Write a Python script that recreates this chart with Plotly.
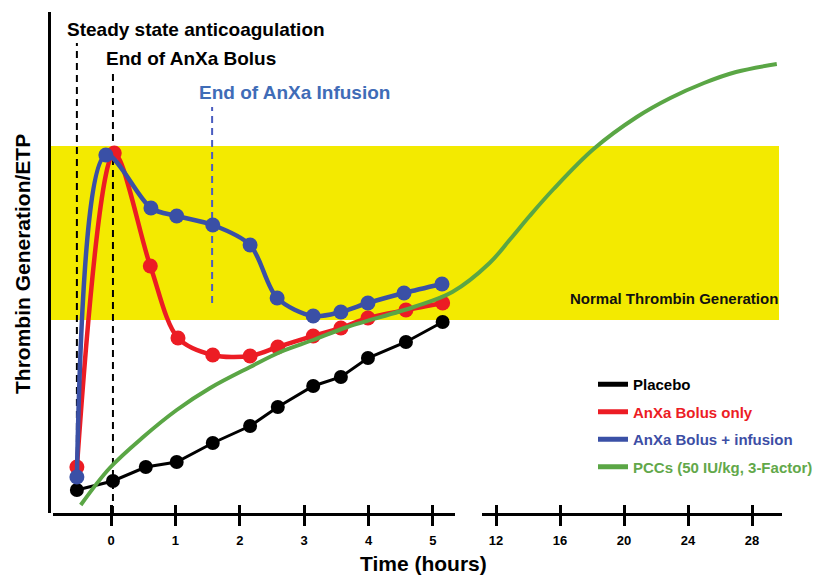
import plotly.graph_objects as go

# ---------------- data (arbitrary thrombin-generation units) ----------------
placebo_t = [-0.53, 0.03, 0.54, 1.02, 1.58, 2.16, 2.59, 3.14, 3.57, 3.99, 4.58, 5.15]
placebo_v = [23, 32, 46, 51, 70, 87, 106, 127, 136, 155, 171, 191]

bolus_t = [-0.53, 0.05, 0.61, 1.04, 1.58, 2.16, 2.59, 3.14, 3.57, 3.99, 4.58, 5.15]
bolus_v = [46, 360, 247, 175, 158, 157, 166, 177, 185, 195, 203, 210]

infusion_t = [-0.53, -0.08, 0.62, 1.02, 1.58, 2.16, 2.58, 3.14, 3.57, 3.99, 4.55, 5.14]
infusion_v = [36, 358, 305, 297, 288, 268, 215, 197, 201, 210, 220, 229]

pcc_t = [-0.47, -0.02, 0.5, 1.02, 1.54, 2.16, 2.63, 3.14, 3.67, 4.7, 5.3,
         11.6, 12.9, 14.1, 15.6, 18.1, 20.8, 22.9, 25.0, 27.0, 29.55]
pcc_v = [8, 45, 76, 103, 125, 146, 161, 173, 186, 206, 221,
         250, 274, 297, 324, 364, 396, 415, 430, 441, 449]

normal_range = [193, 367]

event_times = [-0.53, 0.03, 1.57]
event_spans = [[23, 470], [0, 441], [210, 406]]
event_labels = ["Steady state anticoagulation", "End of AnXa Bolus", "End of AnXa Infusion"]

left_ticks = [0, 1, 2, 3, 4, 5]
right_ticks = [12, 16, 20, 24, 28]

series_names = ["Placebo", "AnXa Bolus only", "AnXa Bolus + infusion", "PCCs (50 IU/kg, 3-Factor)"]

# ---------------- styling ----------------
BLACK = "#000000"
RED = "#ec1c24"
BLUE = "#3a50a6"
GREEN = "#5aa645"
YELLOW = "#f3ea00"
INFUSION_BLUE = "#3f6cb7"
LEGEND_COLORS = ["#000000", "#ec1c24", "#3d4ea5", "#62a84a"]
FONT = "Liberation Sans, Arial, Helvetica, sans-serif"

W, H = 814, 575
ML, MR, MT, MB = 49, 32, 12, 62
PW = W - ML - MR
PH = H - MT - MB

LEFT_RANGE = [-0.901, 5.342]
RIGHT_RANGE = [11.125, 29.875]
D0 = 4 / PW
D1 = (455 - ML) / PW
D2 = (482 - ML) / PW
Y_RANGE = [0, 501]


def to_paper(t):
    """Broken time axis: map a time to the horizontal fraction of the plot."""
    if t <= LEFT_RANGE[1] + 0.2:
        return D0 + (t - LEFT_RANGE[0]) / (LEFT_RANGE[1] - LEFT_RANGE[0]) * (D1 - D0)
    return D2 + (t - RIGHT_RANGE[0]) / (RIGHT_RANGE[1] - RIGHT_RANGE[0]) * (1 - D2)


def py(pix_y):
    """paper-y fraction of a pixel row of the page"""
    return (MT + PH - pix_y) / PH


fig = go.Figure()

fig.add_trace(go.Scatter(x=placebo_t, y=placebo_v, mode="lines+markers",
                         line=dict(color=BLACK, width=3),
                         marker=dict(color=BLACK, size=14),
                         showlegend=False, xaxis="x", yaxis="y"))
fig.add_trace(go.Scatter(x=bolus_t, y=bolus_v, mode="lines+markers",
                         line=dict(color=RED, width=4.5, shape="spline", smoothing=0.9),
                         marker=dict(color=RED, size=15),
                         showlegend=False, xaxis="x", yaxis="y"))
fig.add_trace(go.Scatter(x=infusion_t, y=infusion_v, mode="lines+markers",
                         line=dict(color=BLUE, width=4.5, shape="spline", smoothing=0.9),
                         marker=dict(color=BLUE, size=15),
                         showlegend=False, xaxis="x", yaxis="y"))
fig.add_trace(go.Scatter(x=[to_paper(t) for t in pcc_t], y=pcc_v, mode="lines",
                         line=dict(color=GREEN, width=4, shape="spline", smoothing=1.0),
                         showlegend=False, xaxis="x5", yaxis="y"))

# legend entries (lines only)
for i, (name, col) in enumerate(zip(series_names, [BLACK, RED, BLUE, GREEN])):
    fig.add_trace(go.Scatter(x=[None], y=[None], mode="lines",
                             line=dict(color=col, width=5),
                             name=f"<span style='color:{LEGEND_COLORS[i]}'>{name}</span>",
                             legendgroup=f"g{i}", showlegend=True,
                             xaxis="x", yaxis="y"))

# normal thrombin generation band
fig.add_shape(type="rect", xref="paper", yref="y", x0=0, x1=(779 - ML) / PW,
              y0=normal_range[0], y1=normal_range[1],
              fillcolor=YELLOW, line=dict(width=0), layer="below")

# event dashed lines
for t, span, col in zip(event_times, event_spans, [BLACK, BLACK, "#4a5cc0"]):
    fig.add_shape(type="line", xref="x", yref="y", x0=t, x1=t, y0=span[0], y1=span[1],
                  line=dict(color=col, width=2, dash="7px,5px"), layer="below")

ann_font = dict(family=FONT, size=19, weight="bold")
fig.add_annotation(x=-0.72, y=484, xref="x", yref="y", text=event_labels[0],
                   showarrow=False, xanchor="left", yanchor="middle",
                   font=dict(**ann_font, color=BLACK))
fig.add_annotation(x=-0.11, y=455, xref="x", yref="y", text=event_labels[1],
                   showarrow=False, xanchor="left", yanchor="middle",
                   font=dict(**ann_font, color=BLACK))
fig.add_annotation(x=1.33, y=421, xref="x", yref="y", text=event_labels[2],
                   showarrow=False, xanchor="left", yanchor="middle",
                   font=dict(**ann_font, color=INFUSION_BLUE))
fig.add_annotation(x=(780 - ML) / PW, y=215, xref="paper", yref="y",
                   text="Normal Thrombin Generation", showarrow=False,
                   xanchor="right", yanchor="middle",
                   font=dict(family=FONT, size=15, weight="bold", color="#111111"))
fig.add_annotation(x=(423.5 - ML) / PW, y=py(563),
                   xref="paper", yref="paper", text="Time (hours)", showarrow=False,
                   xanchor="center", yanchor="middle",
                   font=dict(family=FONT, size=21, weight="bold", color=BLACK))
fig.add_annotation(x=(22 - ML) / PW, y=py(264), xref="paper", yref="paper",
                   text="Thrombin Generation/ETP", showarrow=False, textangle=-90,
                   xanchor="center", yanchor="middle",
                   font=dict(family=FONT, size=21, weight="bold", color=BLACK))

tick_font = dict(family=FONT, size=13, weight="bold", color=BLACK)
base_x = dict(showline=True, linewidth=3, linecolor=BLACK, showgrid=False, zeroline=False,
              ticks="outside", ticklen=10, tickwidth=2.5, tickcolor=BLACK,
              tickfont=tick_font, ticklabelstandoff=3, anchor="y", tickmode="array")
over_x = dict(showline=False, showgrid=False, zeroline=False, ticks="inside", ticklen=8,
              tickwidth=2.5, tickcolor=BLACK, showticklabels=False, anchor="y",
              tickmode="array")

fig.update_layout(
    width=W, height=H,
    margin=dict(l=ML, r=MR, t=MT, b=MB, autoexpand=False),
    paper_bgcolor="white", plot_bgcolor="rgba(0,0,0,0)",
    font=dict(family=FONT, color=BLACK),
    xaxis=dict(**base_x, domain=[D0, D1], range=LEFT_RANGE, tickvals=left_ticks),
    xaxis2=dict(**base_x, domain=[D2, 1], range=RIGHT_RANGE, tickvals=right_ticks),
    xaxis3=dict(**over_x, overlaying="x", range=LEFT_RANGE, tickvals=left_ticks),
    xaxis4=dict(**over_x, overlaying="x2", range=RIGHT_RANGE, tickvals=right_ticks),
    xaxis5=dict(domain=[0, 1], range=[0, 1], visible=False, anchor="y"),
    yaxis=dict(range=Y_RANGE, showline=True, linewidth=3, linecolor=BLACK,
               showgrid=False, zeroline=False, showticklabels=False, ticks="",
               anchor="free", position=0),
    legend=dict(x=(593 - ML) / PW, y=py(368),
                xanchor="left", yanchor="top", bgcolor="rgba(0,0,0,0)",
                font=dict(family=FONT, size=15, weight="bold"),
                tracegroupgap=5, itemwidth=30),
    showlegend=True,
)

# dummy traces so the overlay / right axes are realized
fig.add_trace(go.Scatter(x=[None], y=[None], xaxis="x2", yaxis="y", showlegend=False))
fig.add_trace(go.Scatter(x=[None], y=[None], xaxis="x3", yaxis="y", showlegend=False))
fig.add_trace(go.Scatter(x=[None], y=[None], xaxis="x4", yaxis="y", showlegend=False))

fig.write_html("out.html", config={"displayModeBar": False},
               post_script="document.body.style.margin='0';document.body.style.padding='0';")
